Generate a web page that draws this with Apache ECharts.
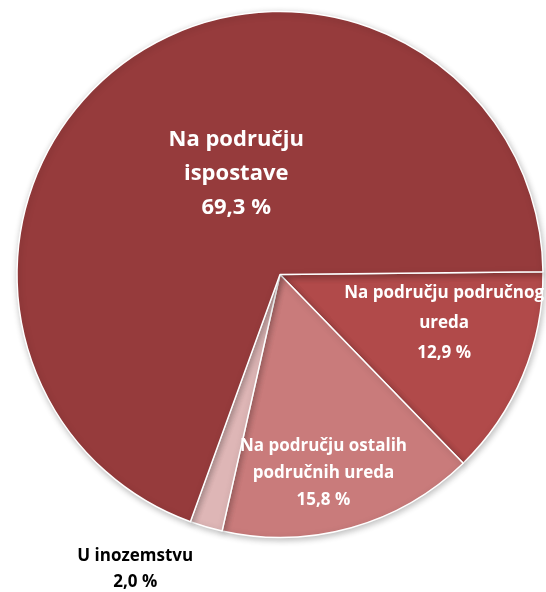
<!DOCTYPE html>
<html>
<head>
<meta charset="utf-8">
<script src="https://cdn.jsdelivr.net/npm/echarts@6/dist/echarts.min.js"></script>
<style>
  html, body { margin: 0; padding: 0; background: #ffffff; }
  #chart { width: 546px; height: 592px; }
</style>
</head>
<body>
<div id="chart"></div>
<script>
// Struktura prema mjestu (udjeli u %)
const categories = [
  'Na području područnog ureda',
  'Na području ostalih područnih ureda',
  'U inozemstvu',
  'Na području ispostave'
];
const labelNames = [
  'Na području područnog\nureda',
  'Na području ostalih\npodručnih ureda',
  'U inozemstvu',
  'Na području\nispostave'
];
const shares = [12.9, 15.8, 2.0, 69.3];
const sliceColors = ['#b14a4a', '#c97b7b', '#deb6b6', '#963b3c'];

// label appearance per slice
const labelStyles = [
  { fontSize: 17, lineHeight: 30, color: '#ffffff' },
  { fontSize: 17, lineHeight: 27, color: '#ffffff' },
  { fontSize: 17, lineHeight: 26, color: '#000000' },
  { fontSize: 22, lineHeight: 34, color: '#ffffff' }
];
// label nudges from the slice's inner anchor
const labelShift = [
  { dx: 40, dy: -3 },
  { dx: 7, dy: 69 },
  { dx: -107, dy: 166 },
  { dx: 34, dy: 9 }
];

const fmt = v => v.toFixed(1).replace('.', ',') + ' %';

const data = categories.map((name, i) => ({
  name: name,
  value: shares[i],
  itemStyle: { color: sliceColors[i] },
  label: Object.assign({
    formatter: labelNames[i] + '\n' + fmt(shares[i])
  }, labelStyles[i])
}));

const chart = echarts.init(document.getElementById('chart'), null, { renderer: 'canvas' });
chart.setOption({
  animation: false,
  backgroundColor: '#ffffff',
  series: [{
    type: 'pie',
    center: [280, 274.5],
    radius: [0, 263],
    startAngle: 0.6,
    clockwise: true,
    avoidLabelOverlap: false,
    itemStyle: {
      borderColor: '#ffffff',
      borderWidth: 1.5,
      shadowBlur: 6,
      shadowColor: 'rgba(0,0,0,0.25)',
      shadowOffsetX: 1,
      shadowOffsetY: 2
    },
    label: {
      show: true,
      position: 'inside',
      fontFamily: '"Open Sans", Lato, sans-serif',
      fontWeight: 'bold',
      align: 'center',
      overflow: 'none'
    },
    labelLine: { show: false },
    labelLayout: function (params) {
      return labelShift[params.dataIndex];
    },
    emphasis: { disabled: true },
    data: data
  }]
});
</script>
</body>
</html>
